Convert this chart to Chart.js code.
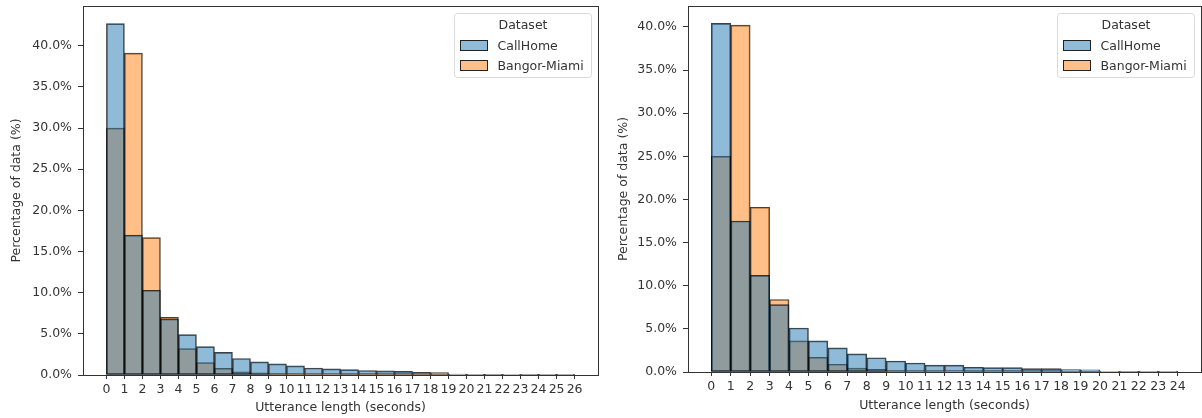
<!DOCTYPE html>
<html>
<head>
<meta charset="utf-8">
<script src="https://cdn.jsdelivr.net/npm/chart.js@4.4.1/dist/chart.umd.min.js"></script>
<style>
  body { margin: 0; background: #fff; }
  #wrap { position: relative; width: 1202px; height: 418px; }
  canvas { position: absolute; top: 0; }
  #leftChart { left: 0; }
  #rightChart { left: 600px; }
</style>
</head>
<body>
<div id="wrap">
  <canvas id="leftChart" width="600" height="418"></canvas>
  <canvas id="rightChart" width="602" height="418"></canvas>
</div>
<script>
// Left panel: percentage of utterances per 1-second bin (bins 0..25)
const leftCallHome = [42.7, 17.0, 10.3, 6.8, 4.9, 3.45, 2.75, 2.0, 1.6, 1.35, 1.1, 0.85, 0.75, 0.65, 0.55, 0.5, 0.45, 0.33, 0.3, 0.1, 0.08, 0.07, 0.06, 0.05, 0.04, 0.03];
const leftBangor = [30.0, 39.1, 16.7, 7.0, 3.2, 1.5, 0.8, 0.4, 0.25, 0.15, 0.1, 0.08, 0.06, 0.05, 0.04, 0.03, 0.03, 0.02, 0.02, 0.01, 0.01, 0.01, 0.01, 0.01, 0.01, 0.01];
const leftTicks = [0, 1, 2, 3, 4, 5, 6, 7, 8, 9, 10, 11, 12, 13, 14, 15, 16, 17, 18, 19, 20, 21, 22, 23, 24, 25, 26];

// Right panel: bins 0..23
const rightCallHome = [40.4, 17.5, 11.2, 7.8, 5.1, 3.6, 2.8, 2.1, 1.65, 1.27, 1.04, 0.8, 0.8, 0.55, 0.5, 0.5, 0.4, 0.4, 0.27, 0.25, 0.06, 0.05, 0.04, 0.03];
const rightBangor = [25.0, 40.2, 19.1, 8.4, 3.6, 1.7, 0.9, 0.45, 0.3, 0.15, 0.1, 0.08, 0.06, 0.05, 0.04, 0.03, 0.03, 0.02, 0.02, 0.01, 0.01, 0.01, 0.01, 0.01];
const rightTicks = [0, 1, 2, 3, 4, 5, 6, 7, 8, 9, 10, 11, 12, 13, 14, 15, 16, 17, 18, 19, 20, 21, 22, 23, 24];

const yTicks = [0, 5, 10, 15, 20, 25, 30, 35, 40];
const seriesNames = ['CallHome', 'Bangor-Miami'];

Chart.defaults.font.family = '"DejaVu Sans", sans-serif';
Chart.defaults.font.size = 12.5;
Chart.defaults.color = '#333';

// matplotlib-like box around the axes
const frame = {
  id: 'frame',
  afterDatasetsDraw(chart) {
    const a = chart.chartArea;
    const ctx = chart.ctx;
    ctx.save();
    ctx.strokeStyle = '#333';
    ctx.lineWidth = 1;
    ctx.strokeRect(Math.round(a.left) + 0.5, Math.round(a.top) + 0.5, Math.round(a.width), Math.round(a.height));
    ctx.restore();
  }
};

// legend with title in the top right corner of the plot
const legendBox = {
  id: 'legendBox',
  afterDraw(chart) {
    const ctx = chart.ctx;
    const a = chart.chartArea;
    const sets = chart.data.datasets;
    ctx.save();
    ctx.font = '12.5px "DejaVu Sans"';
    const textW = Math.max(...sets.map(d => ctx.measureText(d.label).width));
    const w = Math.round(43 + textW + 8), h = 64;
    const x = Math.round(a.right - 7 - w) + 0.5, y = Math.round(a.top + 7) + 0.5;
    ctx.fillStyle = 'rgba(255,255,255,0.85)';
    ctx.strokeStyle = '#d9d9d9';
    ctx.beginPath();
    ctx.roundRect(x, y, w, h, 3);
    ctx.fill();
    ctx.stroke();
    ctx.textBaseline = 'middle';
    ctx.textAlign = 'center';
    ctx.fillStyle = '#333';
    ctx.fillText('Dataset', x + w / 2, y + 12);
    ctx.textAlign = 'left';
    sets.forEach((d, i) => {
      const cy = y + 32 + i * 20;
      ctx.fillStyle = d.backgroundColor;
      ctx.fillRect(x + 6, cy - 5, 27, 10);
      ctx.strokeStyle = '#222';
      ctx.strokeRect(x + 6, cy - 5, 27, 10);
      ctx.fillStyle = '#333';
      ctx.fillText(d.label, x + 43, cy + 1);
    });
    ctx.restore();
  }
};

function makeChart(id, callHome, bangor, xTicks, layout) {
  const last = xTicks[xTicks.length - 1];
  const margin = last * 0.05;
  const yMax = Math.max(...callHome, ...bangor) * 1.05;
  const toPoints = vals => vals.map((v, i) => ({ x: i + 0.5, y: v }));

  return new Chart(document.getElementById(id), {
    type: 'bar',
    data: {
      datasets: [
        {
          label: seriesNames[0],
          data: toPoints(callHome),
          backgroundColor: 'rgba(31,119,180,0.5)',
          borderColor: 'rgba(0,0,0,0.75)',
          borderWidth: 1,
          borderSkipped: false,
          grouped: false,
          barPercentage: 1,
          categoryPercentage: 1
        },
        {
          label: seriesNames[1],
          data: toPoints(bangor),
          backgroundColor: 'rgba(255,127,14,0.5)',
          borderColor: 'rgba(0,0,0,0.75)',
          borderWidth: 1,
          borderSkipped: false,
          grouped: false,
          barPercentage: 1,
          categoryPercentage: 1
        }
      ]
    },
    options: {
      responsive: false,
      animation: false,
      layout: { padding: { top: 6, right: layout.right, left: 0, bottom: 0 } },
      plugins: { legend: { display: false }, tooltip: { enabled: false } },
      scales: {
        x: {
          type: 'linear',
          offset: false,
          min: -margin,
          max: last + margin,
          afterBuildTicks: s => { s.ticks = xTicks.map(v => ({ value: v })); },
          afterFit: s => { s.height = layout.xHeight; s.paddingLeft = 0; s.paddingRight = 0; },
          ticks: { autoSkip: false, maxRotation: 0, padding: 3 },
          grid: { display: true, offset: false, drawOnChartArea: false, drawTicks: true, tickLength: 4, tickColor: '#333' },
          border: { display: false },
          title: { display: true, text: 'Utterance length (seconds)', padding: { top: 0, bottom: layout.xTitlePad } }
        },
        y: {
          min: 0,
          max: yMax,
          afterBuildTicks: s => { s.ticks = yTicks.map(v => ({ value: v })); },
          afterFit: s => { s.width = layout.yWidth; s.paddingTop = 0; s.paddingBottom = 0; },
          ticks: { padding: 6, callback: v => v.toFixed(1) + '%' },
          grid: { display: true, offset: false, drawOnChartArea: false, drawTicks: true, tickLength: 5, tickColor: '#333' },
          border: { display: false },
          title: { display: true, text: 'Percentage of data (%)', padding: { top: layout.yTitlePad, bottom: 0 } }
        }
      }
    },
    plugins: [frame, legendBox]
  });
}

document.addEventListener('DOMContentLoaded', () => {
  makeChart('leftChart', leftCallHome, leftBangor, leftTicks, { right: 2, yWidth: 83, xHeight: 43, yTitlePad: 9.5, xTitlePad: 2.5 });
  makeChart('rightChart', rightCallHome, rightBangor, rightTicks, { right: 1, yWidth: 88, xHeight: 46, yTitlePad: 16.5, xTitlePad: 4.5 });
});
</script>
</body>
</html>
